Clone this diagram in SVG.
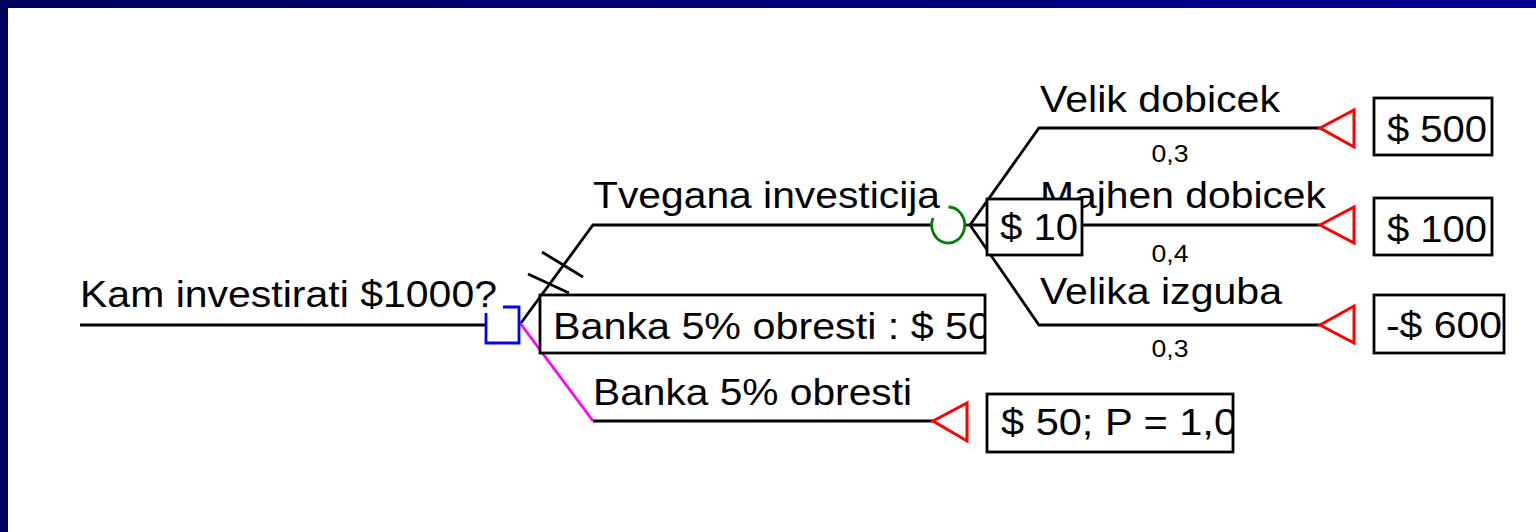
<svg xmlns="http://www.w3.org/2000/svg" width="1536" height="532" viewBox="0 0 1536 532">
  <defs>
    <linearGradient id="band" x1="0" y1="0" x2="1" y2="0">
      <stop offset="0" stop-color="#000060"/>
      <stop offset="1" stop-color="#00008e"/>
    </linearGradient>
    <clipPath id="clipBanka"><rect x="540" y="295" width="445" height="58"/></clipPath>
    <clipPath id="clipP"><rect x="987" y="394" width="246" height="58"/></clipPath>
  </defs>
  <style>
    .ln { stroke: #000; stroke-width: 2.8; fill: none; }
    .box { stroke: #000; stroke-width: 2.8; fill: #fff; }
    .term { stroke: #ff0000; stroke-width: 3; fill: #fff; stroke-linejoin: miter; }
    .t { font-family: "Liberation Sans", Arial, sans-serif; font-size: 37px; fill: #000; }
    .p { font-family: "Liberation Sans", Arial, sans-serif; font-size: 24px; fill: #000; text-anchor: middle; }
  </style>
  <rect width="1536" height="532" fill="#fff"/>
  <rect x="0" y="0" width="1536" height="8" fill="url(#band)"/>
  <rect x="0" y="0" width="8" height="532" fill="#000060"/>

  <g id="connectors">
    <line class="ln" x1="80" y1="325" x2="486" y2="325"/>
    <polyline class="ln" points="521,323 593,225 933,225"/>
    <line class="ln" x1="528" y1="274" x2="569" y2="293"/>
    <line class="ln" x1="542" y1="252" x2="583" y2="277"/>
    <line x1="520" y1="323" x2="593" y2="421" stroke="#ff00ff" stroke-width="2.8"/>
    <line class="ln" x1="593" y1="421" x2="934" y2="421"/>
    <line class="ln" x1="965" y1="225" x2="970" y2="225"/>
    <polyline class="ln" points="970,225 1039,128 1320,128"/>
    <line class="ln" x1="970" y1="225" x2="1320" y2="225"/>
    <polyline class="ln" points="970,225 1039,325 1320,325"/>
  </g>

  <g id="root-label">
    <text class="t" x="80" y="307" textLength="417" lengthAdjust="spacingAndGlyphs">Kam investirati $1000?</text>
  </g>

  <g id="decision">
    <path d="M503,307 H519 V343 H486 V313" fill="none" stroke="#0000ff" stroke-width="2.8"/>
  </g>

  <g id="branch-risky">
    <text class="t" x="593" y="208" textLength="347" lengthAdjust="spacingAndGlyphs">Tvegana investicija</text>
  </g>

  <g id="branch-bank">
    <text class="t" x="593" y="405" textLength="319" lengthAdjust="spacingAndGlyphs">Banka 5% obresti</text>
  </g>

  <g id="decision-value">
    <rect class="box" x="540" y="295" width="445" height="58"/>
    <text class="t" x="553" y="339" textLength="438" lengthAdjust="spacingAndGlyphs" clip-path="url(#clipBanka)">Banka 5% obresti : $ 50</text>
  </g>

  <g id="chance">
    <path d="M933,218 A16.5,18 0 1 0 948.5,207" fill="none" stroke="#008000" stroke-width="2.8"/>
  </g>

  <g id="outcome-labels">
    <text class="t" x="1040" y="112" textLength="240" lengthAdjust="spacingAndGlyphs">Velik dobicek</text>
    <text class="t" x="1040" y="208" textLength="286" lengthAdjust="spacingAndGlyphs">Majhen dobicek</text>
    <text class="t" x="1040" y="304" textLength="242" lengthAdjust="spacingAndGlyphs">Velika izguba</text>
    <text class="p" x="1170" y="162" textLength="37" lengthAdjust="spacingAndGlyphs">0,3</text>
    <text class="p" x="1170" y="262" textLength="37" lengthAdjust="spacingAndGlyphs">0,4</text>
    <text class="p" x="1170" y="357" textLength="37" lengthAdjust="spacingAndGlyphs">0,3</text>
  </g>

  <g id="chance-value">
    <rect class="box" x="987" y="199" width="95" height="56"/>
    <text class="t" x="1000" y="240" textLength="78" lengthAdjust="spacingAndGlyphs">$ 10</text>
  </g>

  <g id="end-1">
    <polygon class="term" points="1320,128 1354,110 1354,147"/>
    <rect class="box" x="1374" y="98" width="118" height="57"/>
    <text class="t" x="1387" y="142" textLength="100" lengthAdjust="spacingAndGlyphs">$ 500</text>
  </g>
  <g id="end-2">
    <polygon class="term" points="1320,225 1354,207 1354,243"/>
    <rect class="box" x="1374" y="198" width="118" height="57"/>
    <text class="t" x="1387" y="242" textLength="100" lengthAdjust="spacingAndGlyphs">$ 100</text>
  </g>
  <g id="end-3">
    <polygon class="term" points="1320,325 1354,306 1354,343"/>
    <rect class="box" x="1374" y="295" width="130" height="58"/>
    <text class="t" x="1386" y="338" textLength="116" lengthAdjust="spacingAndGlyphs">-$ 600</text>
  </g>
  <g id="end-bank">
    <polygon class="term" points="933,421 967,403 967,441"/>
    <rect class="box" x="987" y="394" width="246" height="58"/>
    <text class="t" x="1001" y="435" textLength="236" lengthAdjust="spacingAndGlyphs" clip-path="url(#clipP)">$ 50; P = 1,0</text>
  </g>
</svg>
